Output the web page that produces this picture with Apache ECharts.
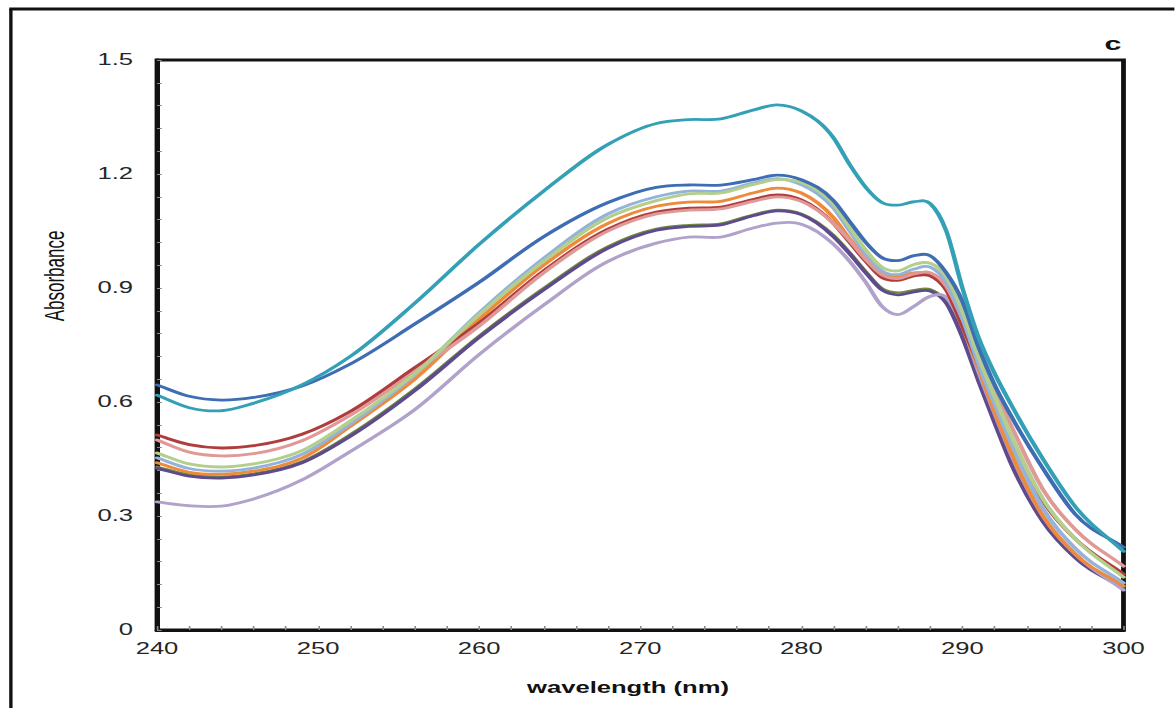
<!DOCTYPE html>
<html>
<head>
<meta charset="utf-8">
<script src="https://cdn.jsdelivr.net/npm/echarts@6/dist/echarts.min.js"></script>
<style>
  html, body { margin: 0; padding: 0; background: #ffffff; overflow: hidden; }
  #wrap { width: 1175px; height: 708px; overflow: hidden; position: relative; }
  #chart { position: absolute; left: 0; top: 0; height: 708px; transform-origin: 0 0; }
</style>
</head>
<body>
<div id="wrap"><div id="chart"></div></div>
<script>
// Horizontal stretch of the figure (the plot was laid out wide).
const STRETCH = 1.6;
const W = 1175 / STRETCH, H = 708;

// Wavelength sampling points (nm)
const wavelength = [240, 242, 244, 246, 249, 252, 256, 260, 264, 268, 271, 273, 275, 277, 278.5, 280,
                    282, 283, 284, 285, 286, 287, 288, 289, 290, 291, 292, 293, 295, 297, 300];

// Absorbance spectra
const teal = [0.618, 0.585, 0.577, 0.597, 0.645, 0.72, 0.86, 1.015, 1.155, 1.278, 1.333, 1.343, 1.345, 1.368, 1.382, 1.366,
              1.295, 1.225, 1.165, 1.125, 1.118, 1.127, 1.122, 1.05, 0.90, 0.77, 0.675, 0.595, 0.45, 0.325, 0.207];
const blue = [0.645, 0.615, 0.605, 0.612, 0.642, 0.70, 0.805, 0.915, 1.035, 1.125, 1.165, 1.171, 1.171, 1.185, 1.197, 1.185,
              1.13, 1.075, 1.02, 0.98, 0.972, 0.985, 0.985, 0.94, 0.865, 0.745, 0.645, 0.565, 0.425, 0.305, 0.218];
const red = [0.513, 0.488, 0.479, 0.485, 0.515, 0.575, 0.69, 0.808, 0.945, 1.055, 1.10, 1.11, 1.113, 1.133, 1.145, 1.132,
             1.07, 1.02, 0.97, 0.928, 0.92, 0.932, 0.932, 0.895, 0.80, 0.70, 0.60, 0.505, 0.34, 0.24, 0.147];
const pink = [0.50, 0.468, 0.458, 0.464, 0.498, 0.565, 0.68, 0.80, 0.94, 1.05, 1.095, 1.105, 1.108, 1.128, 1.14, 1.128,
              1.07, 1.025, 0.975, 0.935, 0.925, 0.937, 0.94, 0.905, 0.82, 0.725, 0.63, 0.54, 0.37, 0.265, 0.168];
const green = [0.466, 0.437, 0.429, 0.437, 0.472, 0.55, 0.675, 0.83, 0.97, 1.085, 1.13, 1.148, 1.15, 1.172, 1.185, 1.178,
               1.12, 1.06, 1.0, 0.955, 0.945, 0.962, 0.965, 0.93, 0.84, 0.72, 0.615, 0.515, 0.345, 0.24, 0.139];
const lightBlue = [0.453, 0.425, 0.418, 0.426, 0.462, 0.542, 0.672, 0.835, 0.978, 1.095, 1.14, 1.155, 1.155, 1.176, 1.188, 1.172,
                   1.11, 1.05, 0.99, 0.945, 0.935, 0.95, 0.955, 0.915, 0.82, 0.70, 0.595, 0.495, 0.32, 0.215, 0.124];
const orange = [0.44, 0.415, 0.41, 0.418, 0.452, 0.536, 0.66, 0.818, 0.96, 1.07, 1.115, 1.126, 1.128, 1.15, 1.163, 1.15,
                1.085, 1.03, 0.98, 0.938, 0.93, 0.94, 0.935, 0.895, 0.80, 0.69, 0.575, 0.47, 0.30, 0.20, 0.116];
const darkPurple = [0.426, 0.405, 0.40, 0.408, 0.44, 0.51, 0.63, 0.77, 0.895, 1.005, 1.052, 1.062, 1.066, 1.09, 1.103, 1.093,
                    1.035, 0.99, 0.94, 0.895, 0.882, 0.89, 0.892, 0.86, 0.77, 0.655, 0.545, 0.44, 0.285, 0.19, 0.11];
const olive = [0.43, 0.409, 0.404, 0.412, 0.444, 0.515, 0.635, 0.775, 0.9, 1.01, 1.056, 1.066, 1.07, 1.093, 1.106, 1.096,
               1.04, 0.995, 0.945, 0.9, 0.888, 0.895, 0.897, 0.865, 0.775, 0.66, 0.55, 0.445, 0.29, 0.195, 0.113];
const lavender = [0.337, 0.327, 0.326, 0.345, 0.395, 0.47, 0.58, 0.725, 0.855, 0.97, 1.018, 1.034, 1.034, 1.058, 1.071, 1.068,
                  1.015, 0.97, 0.915, 0.852, 0.83, 0.852, 0.878, 0.875, 0.80, 0.68, 0.57, 0.465, 0.30, 0.20, 0.105];

// Axis ticks
const xTicks = [240, 250, 260, 270, 280, 290, 300];
const yTicks = [0, 0.3, 0.6, 0.9, 1.2, 1.5];

const FONT = "'Liberation Sans', Arial, Helvetica, sans-serif";

const spectra = [
  { values: olive,      color: '#6e8a3c', width: 2.0 },
  { values: darkPurple, color: '#5e4a8c', width: 2.8 },
  { values: lavender,   color: '#b1a2cb', width: 2.8 },
  { values: orange,     color: '#ef8a3a', width: 2.8 },
  { values: red,        color: '#b03d3d', width: 2.8 },
  { values: pink,       color: '#df9a98', width: 2.8 },
  { values: lightBlue,  color: '#94b3dc', width: 2.8 },
  { values: green,      color: '#b4cf8b', width: 2.8 },
  { values: blue,       color: '#3e6db3', width: 2.8 },
  { values: teal,       color: '#33a0b6', width: 2.8 }
];

// Cubic Hermite curve through the measured points, mapped through the axes.
function spectrumPath(api, xs, ys) {
  const n = xs.length;
  const slope = new Array(n);
  for (let i = 0; i < n; i++) {
    if (i === 0) slope[i] = (ys[1] - ys[0]) / (xs[1] - xs[0]);
    else if (i === n - 1) slope[i] = (ys[n - 1] - ys[n - 2]) / (xs[n - 1] - xs[n - 2]);
    else {
      const h0 = xs[i] - xs[i - 1], h1 = xs[i + 1] - xs[i];
      const d0 = (ys[i] - ys[i - 1]) / h0, d1 = (ys[i + 1] - ys[i]) / h1;
      slope[i] = (d0 * h1 + d1 * h0) / (h0 + h1);
    }
  }
  const p0 = api.coord([xs[0], ys[0]]);
  let d = 'M' + p0[0] + ' ' + p0[1];
  for (let i = 0; i < n - 1; i++) {
    const h = xs[i + 1] - xs[i];
    const c1 = api.coord([xs[i] + h / 3, ys[i] + slope[i] * h / 3]);
    const c2 = api.coord([xs[i + 1] - h / 3, ys[i + 1] - slope[i + 1] * h / 3]);
    const e = api.coord([xs[i + 1], ys[i + 1]]);
    d += ' C' + c1[0] + ' ' + c1[1] + ' ' + c2[0] + ' ' + c2[1] + ' ' + e[0] + ' ' + e[1];
  }
  return d;
}

const el = document.getElementById('chart');
el.style.width = W + 'px';
el.style.transform = 'scaleX(' + STRETCH + ')';

const chart = echarts.init(el, null, { renderer: 'svg', width: W, height: H });

const gridLeft = 157 / STRETCH;
const gridRight = (1175 - 1123.5) / STRETCH;

chart.setOption({
  animation: false,
  backgroundColor: '#ffffff',
  grid: {
    left: gridLeft, right: gridRight, top: 60, bottom: 78,
    show: true, borderColor: '#111111', borderWidth: 3, backgroundColor: '#ffffff'
  },
  xAxis: {
    type: 'value',
    min: xTicks[0], max: xTicks[xTicks.length - 1], interval: 10,
    axisLine: { show: true, lineStyle: { color: '#111111', width: 3 } },
    axisTick: { show: true, inside: true, length: 4, lineStyle: { color: '#8a8a8a', width: 1 } },
    minorTick: { show: true, splitNumber: 5, length: 4, lineStyle: { color: '#8a8a8a', width: 1 } },
    splitLine: { show: false },
    axisLabel: { fontFamily: FONT, fontSize: 16, color: '#262626', margin: 11 }
  },
  yAxis: {
    type: 'value',
    min: yTicks[0], max: yTicks[yTicks.length - 1], interval: 0.3,
    axisLine: { show: true, lineStyle: { color: '#111111', width: 3 } },
    axisTick: { show: true, inside: true, length: 3, lineStyle: { color: '#8a8a8a', width: 1 } },
    minorTick: { show: true, splitNumber: 5, length: 3, lineStyle: { color: '#8a8a8a', width: 1 } },
    splitLine: { show: false },
    axisLabel: {
      fontFamily: FONT, fontSize: 16, color: '#262626', margin: 15,
      formatter: v => (v === 0 ? '0' : v.toFixed(1))
    }
  },
  series: spectra.map(s => ({
    type: 'custom',
    coordinateSystem: 'cartesian2d',
    data: [[wavelength[0], s.values[0]]],
    encode: { x: 0, y: 1 },
    silent: true,
    renderItem: (params, api) => ({
      type: 'path',
      shape: { pathData: spectrumPath(api, wavelength, s.values) },
      style: { fill: 'none', stroke: s.color, lineWidth: s.width, lineJoin: 'round', lineCap: 'round' }
    })
  })),
  graphic: [
    // outer frame (left and top edges)
    { type: 'line', shape: { x1: 6.8, y1: 9, x2: 6.8, y2: 720 }, style: { stroke: '#111111', lineWidth: 2.1 } },
    { type: 'line', shape: { x1: 5.8, y1: 9, x2: W + 10, y2: 9 }, style: { stroke: '#111111', lineWidth: 3.2 } },
    // panel letter
    { type: 'text', x: 1113 / STRETCH, y: 43,
      style: { text: 'c', fontFamily: FONT, fontSize: 19, fontWeight: 'bold', fill: '#111111', align: 'center', verticalAlign: 'middle' } },
    // axis titles
    { type: 'text', x: 628 / STRETCH, y: 688,
      style: { text: 'wavelength (nm)', fontFamily: FONT, fontSize: 16, fontWeight: 'bold', fill: '#111111', align: 'center', verticalAlign: 'middle' } },
    { type: 'text', x: 54 / STRETCH, y: 276, rotation: Math.PI / 2,
      style: { text: 'Absorbance', fontFamily: FONT, fontSize: 17, fill: '#111111', align: 'center', verticalAlign: 'middle' } }
  ]
});
</script>
</body>
</html>
